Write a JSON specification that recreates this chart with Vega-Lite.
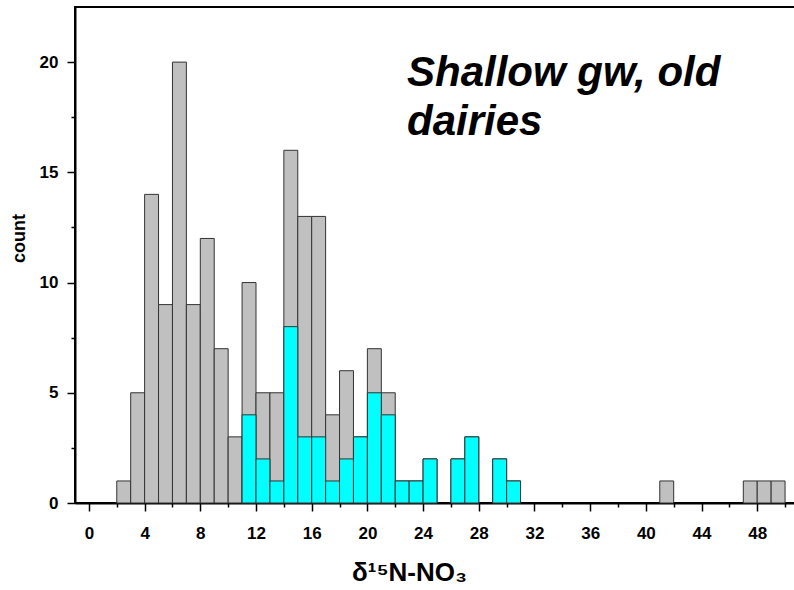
{
  "$schema": "https://vega.github.io/schema/vega-lite/v6.json",
  "autosize": "none",
  "width": 724,
  "height": 496,
  "padding": {"left": 75, "top": 7, "right": 0, "bottom": 87},
  "background": "white",
  "config": {
    "font": "Liberation Sans",
    "view": {"stroke": "black", "strokeWidth": 2}
  },
  "title": {
    "text": ["Shallow gw, old", "dairies"],
    "font": "Liberation Sans",
    "fontSize": 42,
    "fontStyle": "italic",
    "fontWeight": "bold",
    "lineHeight": 49,
    "anchor": "start",
    "frame": "group",
    "orient": "top",
    "baseline": "alphabetic",
    "offset": 0,
    "dx": 332,
    "dy": 170,
    "color": "black"
  },
  "data": {
    "values": [
      {"lo": 2, "hi": 3, "total": 1, "cyan": 0},
      {"lo": 3, "hi": 4, "total": 5, "cyan": 0},
      {"lo": 4, "hi": 5, "total": 14, "cyan": 0},
      {"lo": 5, "hi": 6, "total": 9, "cyan": 0},
      {"lo": 6, "hi": 7, "total": 20, "cyan": 0},
      {"lo": 7, "hi": 8, "total": 9, "cyan": 0},
      {"lo": 8, "hi": 9, "total": 12, "cyan": 0},
      {"lo": 9, "hi": 10, "total": 7, "cyan": 0},
      {"lo": 10, "hi": 11, "total": 3, "cyan": 0},
      {"lo": 11, "hi": 12, "total": 10, "cyan": 4},
      {"lo": 12, "hi": 13, "total": 5, "cyan": 2},
      {"lo": 13, "hi": 14, "total": 5, "cyan": 1},
      {"lo": 14, "hi": 15, "total": 16, "cyan": 8},
      {"lo": 15, "hi": 16, "total": 13, "cyan": 3},
      {"lo": 16, "hi": 17, "total": 13, "cyan": 3},
      {"lo": 17, "hi": 18, "total": 4, "cyan": 1},
      {"lo": 18, "hi": 19, "total": 6, "cyan": 2},
      {"lo": 19, "hi": 20, "total": 3, "cyan": 3},
      {"lo": 20, "hi": 21, "total": 7, "cyan": 5},
      {"lo": 21, "hi": 22, "total": 5, "cyan": 4},
      {"lo": 22, "hi": 23, "total": 1, "cyan": 1},
      {"lo": 23, "hi": 24, "total": 1, "cyan": 1},
      {"lo": 24, "hi": 25, "total": 2, "cyan": 2},
      {"lo": 26, "hi": 27, "total": 2, "cyan": 2},
      {"lo": 27, "hi": 28, "total": 3, "cyan": 3},
      {"lo": 29, "hi": 30, "total": 2, "cyan": 2},
      {"lo": 30, "hi": 31, "total": 1, "cyan": 1},
      {"lo": 41, "hi": 42, "total": 1, "cyan": 0},
      {"lo": 47, "hi": 48, "total": 1, "cyan": 0},
      {"lo": 48, "hi": 49, "total": 1, "cyan": 0},
      {"lo": 49, "hi": 50, "total": 1, "cyan": 0}
    ]
  },
  "encoding": {
    "x": {
      "field": "lo",
      "type": "quantitative",
      "scale": {"domain": [-1, 51], "nice": false, "zero": false},
      "axis": {
        "values": [0,2,4,6,8,10,12,14,16,18,20,22,24,26,28,30,32,34,36,38,40,42,44,46,48,50],
        "labelExpr": "datum.value % 4 === 0 ? datum.label : ''",
        "labelFont": "Liberation Sans",
        "labelFontSize": 17,
        "labelFontWeight": "bold",
        "labelColor": "black",
        "labelFlush": false,
        "labelOverlap": false,
        "labelPadding": 14,
        "tickSize": {"condition": {"test": "datum.value % 4 === 0", "value": 8}, "value": 4},
        "tickColor": "black",
        "tickWidth": 1.5,
        "domainColor": "black",
        "domainWidth": 2,
        "grid": false,
        "title": "δ¹⁵N-NO₃",
        "titleFont": "Liberation Sans",
        "titleFontSize": 26,
        "titleFontWeight": "bold",
        "titleColor": "black",
        "titleX": 334,
        "titleY": 77,
        "titleBaseline": "alphabetic",
        "titleAlign": "center"
      }
    },
    "x2": {"field": "hi"}
  },
  "layer": [
    {
      "mark": {"type": "bar", "fill": "#c0c0c0", "stroke": "#333333", "strokeWidth": 1},
      "encoding": {
        "y": {
          "field": "total",
          "type": "quantitative",
          "scale": {"domain": [0, 22.5], "nice": false},
          "axis": {
            "values": [0, 2.5, 5, 7.5, 10, 12.5, 15, 17.5, 20],
            "labelExpr": "datum.value % 5 === 0 ? datum.label : ''",
            "labelFont": "Liberation Sans",
            "labelFontSize": 17,
            "labelFontWeight": "bold",
            "labelColor": "black",
            "labelFlush": false,
            "labelOverlap": false,
            "labelPadding": 9,
            "tickSize": {"condition": {"test": "datum.value % 5 === 0", "value": 8}, "value": 4},
            "tickColor": "black",
            "tickWidth": 1.5,
            "domainColor": "black",
            "domainWidth": 2,
            "grid": false,
            "title": "count",
            "titleFont": "Liberation Sans",
            "titleFontSize": 18,
            "titleFontWeight": "bold",
            "titleColor": "black",
            "titleAngle": -90,
            "titleX": -56,
            "titleY": 231,
            "titleAlign": "center",
            "titleBaseline": "middle"
          }
        },
        "y2": {"datum": 0}
      }
    },
    {
      "transform": [{"filter": "datum.cyan > 0"}],
      "mark": {"type": "bar", "fill": "#00ffff", "stroke": "#333333", "strokeWidth": 1},
      "encoding": {
        "y": {"field": "cyan", "type": "quantitative"},
        "y2": {"datum": 0}
      }
    }
  ]
}
